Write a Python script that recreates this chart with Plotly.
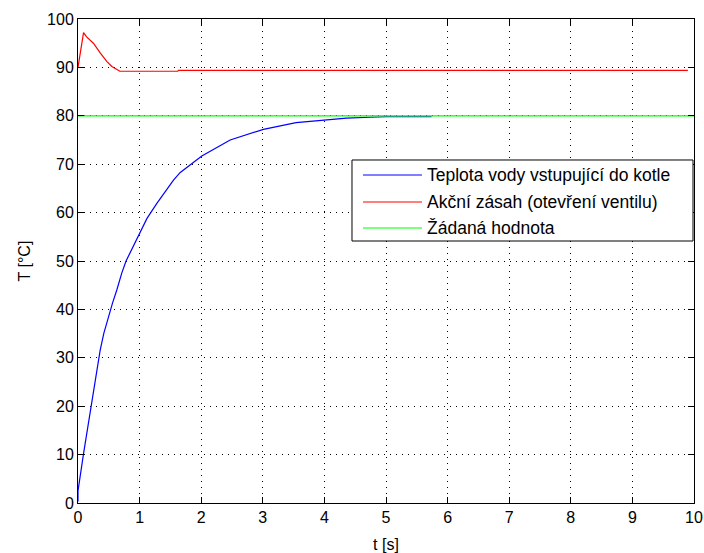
import plotly.graph_objects as go

# Simulated response of the boiler inlet water temperature loop
t_voda = [0, 0.0, 0.09, 0.17, 0.22, 0.29, 0.36, 0.42, 0.49, 0.56, 0.63, 0.71, 0.78, 0.87,
          0.99, 1.12, 1.28, 1.55, 1.66, 2.01, 2.47, 3.01, 3.54, 4.01, 4.36, 4.74, 5.0, 5.74]
T_voda = [0.3, 2.5, 10.2, 16.8, 20.2, 25.8, 31.6, 35.1, 38.5, 41.3, 44.0, 47.5, 50.0, 52.3,
          55.4, 58.8, 61.9, 66.7, 68.3, 71.7, 75.0, 77.2, 78.6, 79.1, 79.5, 79.7, 79.8, 79.8]

t_zasah = [0, 0.09, 0.14, 0.25, 0.36, 0.47, 0.55, 0.68, 1.62, 1.63, 9.9]
u_zasah = [90, 97.2, 96.3, 95.0, 93.0, 91.2, 90.2, 89.2, 89.2, 89.4, 89.4]

t_zadana = [0, 10]
w_zadana = [80, 80]

x_ticks = list(range(0, 11))
y_ticks = list(range(0, 101, 10))

series_names = ["Teplota vody vstupující do kotle",
                "Akční zásah (otevření ventilu)",
                "Žádaná hodnota"]
series_colors = ["#0000ff", "#ff0000", "#00ff00"]

FONT = "Liberation Sans, Arial, sans-serif"

fig = go.Figure()
for (tx, ty), name, color in zip([(t_voda, T_voda), (t_zasah, u_zasah), (t_zadana, w_zadana)],
                                 series_names, series_colors):
    fig.add_trace(go.Scatter(x=tx, y=ty, mode="lines", name=name, showlegend=False,
                             line=dict(color=color, width=1.2)))

axis_common = dict(
    showline=True, linecolor="#000000", linewidth=1, mirror="ticks",
    ticks="inside", ticklen=6, tickcolor="#000000", tickwidth=1,
    showgrid=True, gridcolor="#000000", gridwidth=1, griddash="1px,5px",
    zeroline=False, automargin=False,
    tickfont=dict(family=FONT, size=16, color="#000000"),
)

fig.update_xaxes(range=[0, 10], tickvals=x_ticks, ticktext=[str(v) for v in x_ticks],
                 title=dict(text="t [s]", font=dict(family=FONT, size=16, color="#000000"), standoff=14),
                 **axis_common)
fig.update_yaxes(range=[0, 100], tickvals=y_ticks, ticktext=[str(v) for v in y_ticks],
                 title=dict(text="T [°C]", font=dict(family=FONT, size=16, color="#000000"), standoff=12),
                 **axis_common)

# Legend box drawn in plot-area (paper) coordinates
box_x0, box_x1 = 0.4448, 0.9984
box_y0, box_y1 = 0.5413, 0.7087
sample_x0, sample_x1 = 0.4627, 0.5584
text_x = 0.5630
row_y = [0.6777, 0.6219, 0.5682]

shapes = [dict(type="rect", xref="paper", yref="paper", x0=box_x0, x1=box_x1, y0=box_y0, y1=box_y1,
               line=dict(color="#000000", width=1), fillcolor="#ffffff", layer="above")]
annotations = []
for name, color, yy in zip(series_names, series_colors, row_y):
    shapes.append(dict(type="line", xref="paper", yref="paper", x0=sample_x0, x1=sample_x1,
                       y0=yy, y1=yy, line=dict(color=color, width=1.2), layer="above"))
    annotations.append(dict(xref="paper", yref="paper", x=text_x, y=yy, text=name,
                            showarrow=False, xanchor="left", yanchor="middle",
                            font=dict(family=FONT, size=17.5, color="#000000")))

fig.update_layout(
    width=704, height=553,
    margin=dict(l=78, r=10, t=19, b=50),
    paper_bgcolor="#ffffff", plot_bgcolor="#ffffff",
    font=dict(family=FONT, size=16, color="#000000"),
    shapes=shapes, annotations=annotations,
)

fig.write_html("out.html")
